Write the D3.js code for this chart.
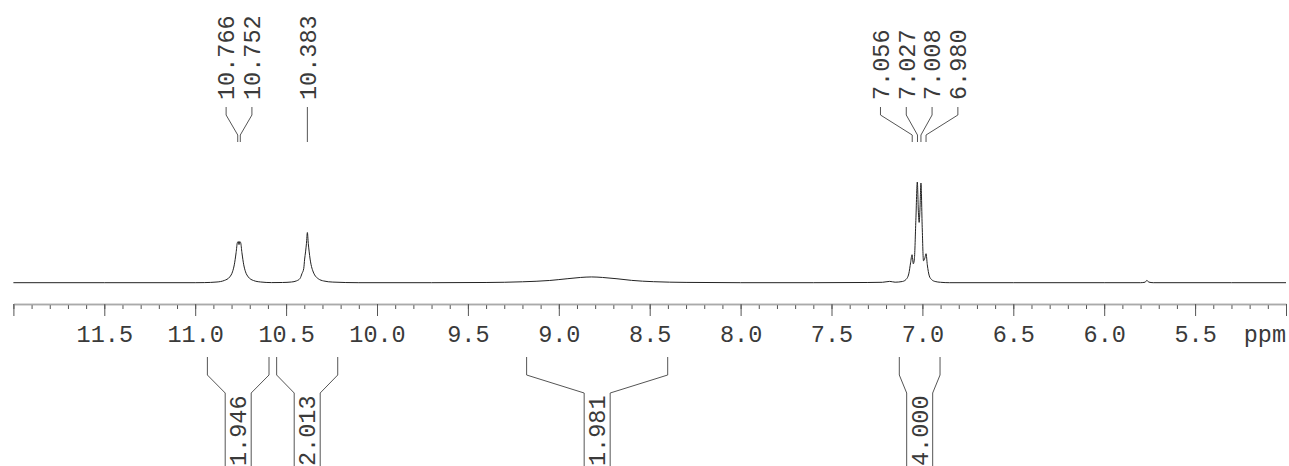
<!DOCTYPE html>
<html lang="en">
<head>
<meta charset="UTF-8">
<title>1H NMR spectrum</title>
<script src="https://d3js.org/d3.v7.min.js"></script>
<style>
  body { margin: 0; background: #fff; }
  svg text { font-family: "Liberation Mono", "DejaVu Sans Mono", monospace; font-size: 23.5px; fill: #3a3a3a; }
  .spectrum { fill: none; stroke: #222; stroke-width: 1; }
  .leader { fill: none; stroke: #555; stroke-width: 1; }
  .axis path { stroke: #aaa; stroke-width: 1.5; }
  .axis line { stroke: #555; }
</style>
</head>
<body>
<svg id="chart" width="1289" height="466"></svg>
<script>
// spectrum trace (ppm, intensity in % of tallest line)
const tracePpm = [12.0, 11.5, 11.0, 10.95, 10.88, 10.84, 10.81, 10.795, 10.785, 10.775, 10.768, 10.763, 10.759, 10.755, 10.75,
  10.743, 10.733, 10.723, 10.708, 10.68, 10.64, 10.58, 10.52, 10.47, 10.443, 10.423, 10.413, 10.403, 10.398, 10.393, 10.388,
  10.383, 10.378, 10.373, 10.368, 10.363, 10.353, 10.343, 10.323, 10.293, 10.243, 10.1, 9.7, 9.4, 9.2, 9.05, 8.95, 8.88,
  8.82, 8.76, 8.68, 8.6, 8.48, 8.3, 8.0, 7.6, 7.3, 7.22, 7.18, 7.15, 7.11, 7.09, 7.075, 7.065, 7.057, 7.05, 7.044, 7.036,
  7.028, 7.022, 7.018, 7.013, 7.008, 7.001, 6.994, 6.986, 6.98, 6.973, 6.962, 6.95, 6.93, 6.9, 6.85, 6.5, 6.0, 5.8, 5.775,
  5.765, 5.755, 5.73, 5.3, 5.0];
const traceInt = [0.3, 0.3, 0.3, 0.4, 1, 2.5, 6, 11, 18, 30, 40, 41, 38, 41, 40,
  30, 18, 11, 6, 2.5, 1, 0.4, 0.5, 1.0, 2.1, 4.6, 9.2, 14.3, 23.7, 30.8, 39.2,
  50, 39.2, 30.8, 23.7, 18.5, 12, 8, 4.2, 2.0, 0.9, 0.3, 0.3, 0.5, 1.2, 2.5, 4.3, 5.5,
  6, 5.5, 4.2, 2.6, 1.3, 0.6, 0.3, 0.3, 0.5, 0.7, 1.6, 0.8, 1.5, 3.5, 9, 20, 28, 19, 24, 62,
  100, 70, 60, 75, 99, 55, 22, 25, 29, 18, 7, 3.5, 1.5, 0.7, 0.3, 0.3, 0.3, 0.3, 0.8,
  2.6, 0.9, 0.3, 0.3, 0.3];

// peak picking labels
const peakPpm = [10.766, 10.752, 10.383, 7.056, 7.027, 7.008, 6.980];
const peakGroup = [0, 0, 1, 2, 2, 2, 2];

// integrals
const integralFrom = [10.933, 10.552, 9.177, 7.127];
const integralTo = [10.594, 10.216, 8.401, 6.903];
const integralValues = ["1.946", "2.013", "1.981", "4.000"];

// axis
const majorTicks = [12.0, 11.5, 11.0, 10.5, 10.0, 9.5, 9.0, 8.5, 8.0, 7.5, 7.0, 6.5, 6.0, 5.5, 5.0];
const tickLabels = ["", "11.5", "11.0", "10.5", "10.0", "9.5", "9.0", "8.5", "8.0", "7.5", "7.0", "6.5", "6.0", "5.5", ""];

const svg = d3.select("#chart");
const axisY = 304, baseY = 283;

const x = d3.scaleLinear().domain([12.0, 5.0]).range([13.4, 1286]);
const y = d3.scaleLinear().domain([0, 100]).range([baseY, 182]);

// spectrum line
const points = tracePpm.map((p, i) => [p, traceInt[i]]);
svg.append("path")
    .attr("class", "spectrum")
    .attr("d", d3.line().x(d => x(d[0])).y(d => y(d[1])).curve(d3.curveMonotoneX)(points));

// minor ticks
svg.append("g")
    .attr("class", "axis")
    .attr("transform", "translate(0," + axisY + ")")
    .call(d3.axisBottom(x).tickValues(d3.range(120, 49, -1).map(v => v / 10)).tickSize(5).tickSizeOuter(0).tickFormat(""));

// major ticks + labels
const major = svg.append("g")
    .attr("class", "axis")
    .attr("transform", "translate(0," + axisY + ")")
    .call(d3.axisBottom(x).tickValues(majorTicks).tickSize(12).tickSizeOuter(0)
        .tickFormat((d, i) => tickLabels[i]));
major.selectAll("text").attr("y", 38).attr("dy", null)
    .style("font-size", "23.5px").style("font-family", "'Liberation Mono', monospace").attr("fill", "#3a3a3a");

svg.append("text")
    .attr("x", 1286)
    .attr("y", axisY + 38)
    .attr("text-anchor", "end")
    .text("ppm");

// peak labels, spread within each group
const labelGap = 25.8;
const labelX = peakPpm.map(() => 0);
d3.groups(peakPpm.map((p, i) => i), i => peakGroup[i]).forEach(([g, idx]) => {
    const c = d3.mean(idx, i => x(peakPpm[i]));
    idx.forEach((i, k) => { labelX[i] = c + (k - (idx.length - 1) / 2) * labelGap; });
});

svg.selectAll(".peak-label")
    .data(peakPpm)
    .enter().append("text")
    .attr("class", "peak-label")
    .attr("transform", (d, i) => "translate(" + labelX[i] + ",100) rotate(-90)")
    .attr("dy", "0.35em")
    .text(d => d.toFixed(3));

svg.selectAll(".peak-leader")
    .data(peakPpm)
    .enter().append("path")
    .attr("class", "leader")
    .attr("d", (d, i) => "M" + labelX[i] + ",107V115L" + x(d) + ",135V142");

// integral brackets
const integrals = integralValues.map((v, i) => ({ from: integralFrom[i], to: integralTo[i], value: v }));
const ig = svg.selectAll(".integral")
    .data(integrals)
    .enter().append("g")
    .attr("class", "integral");

ig.append("path")
    .attr("class", "leader")
    .attr("d", d => {
        const x1 = x(d.from), x2 = x(d.to), c = (x1 + x2) / 2;
        return "M" + x1 + ",357V375L" + (c - 13) + ",393V466" +
               "M" + x2 + ",357V375L" + (c + 13) + ",393V466";
    });

ig.append("text")
    .attr("transform", d => "translate(" + (x(d.from) + x(d.to)) / 2 + ",466) rotate(-90)")
    .attr("dy", "0.35em")
    .text(d => d.value);
</script>
</body>
</html>
